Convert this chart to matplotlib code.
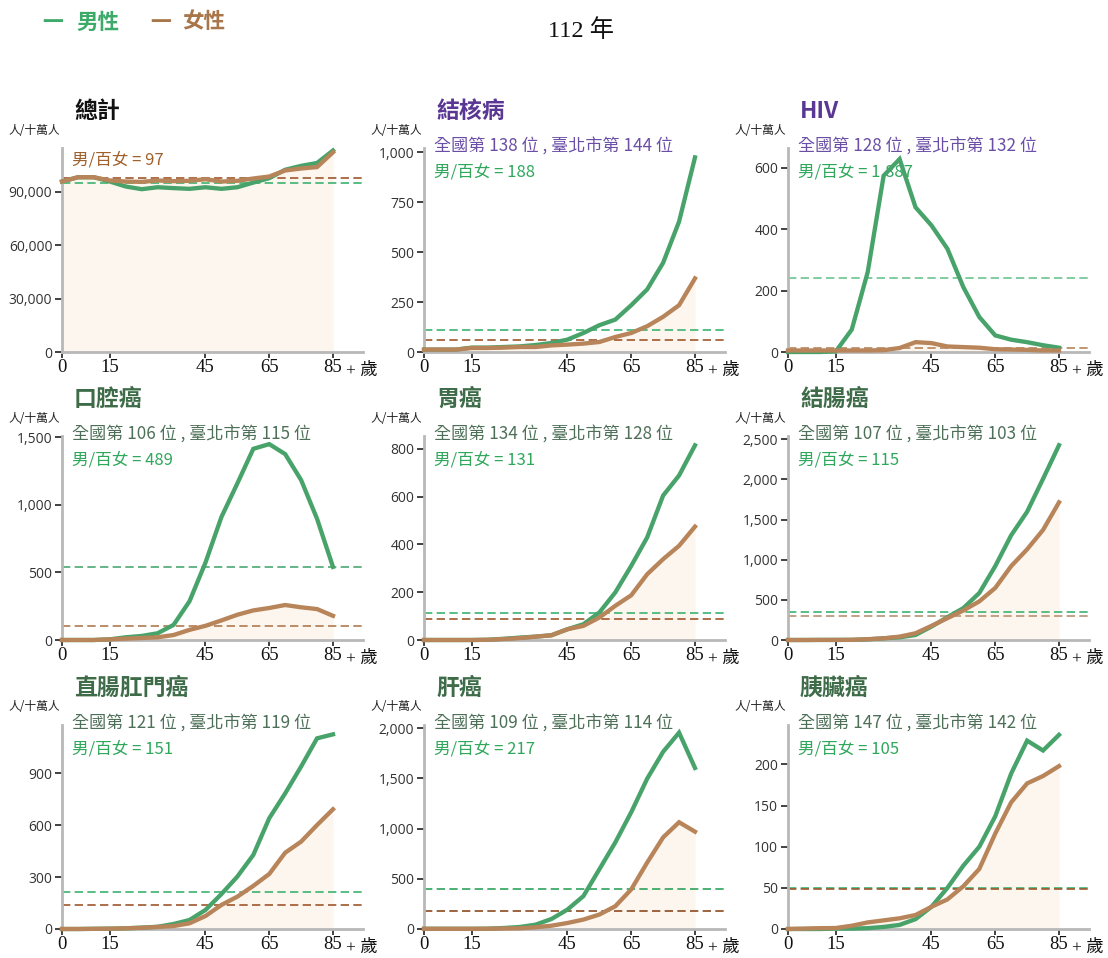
import matplotlib.pyplot as plt
from matplotlib.ticker import FuncFormatter

# Figure: 1108x958 px
W, H = 1108, 958
fig = plt.figure(figsize=(W / 100, H / 100), dpi=100)
fig.patch.set_facecolor('white')

cjk = ['Noto Sans CJK TC', 'DejaVu Sans']
serif = ['Liberation Serif', 'Noto Sans CJK TC']

# ─── Data (rate per 100k by 5-year age group, 0 .. 85+) ───
ages = [0, 5, 10, 15, 20, 25, 30, 35, 40, 45, 50, 55, 60, 65, 70, 75, 80, 85]

total_m = [95600, 98000, 98000, 95600, 92800, 91300, 92400, 91900, 91500,
           92400, 91500, 92400, 95000, 97500, 102200, 104400, 106000, 113000]
total_f = [95600, 98000, 98000, 96200, 95600, 95400, 96200, 95800, 96000,
           96900, 95600, 96000, 97300, 98400, 101800, 102900, 103700, 112000]

tb_m = [12, 12, 12, 22, 22, 25, 28, 35, 45, 62, 95, 134, 162, 234, 313, 446, 652, 973]
tb_f = [12, 12, 12, 20, 20, 22, 25, 25, 33, 37, 42, 50, 75, 95, 129, 176, 234, 368]

hiv_m = [0, 0, 0, 2, 73, 260, 574, 628, 471, 412, 336, 211, 114, 54, 40, 32, 22, 14]
hiv_f = [5, 5, 5, 5, 5, 5, 6, 13, 32, 29, 18, 16, 14, 9, 8, 7, 5, 5]

oral_m = [0, 0, 0, 5, 20, 30, 50, 112, 287, 573, 910, 1159, 1415, 1450, 1376, 1184, 897, 541]
oral_f = [0, 0, 0, 5, 10, 15, 20, 37, 75, 105, 145, 187, 219, 237, 259, 242, 229, 179]

stomach_m = [0, 0, 0, 0, 1, 5, 10, 14, 20, 45, 66, 115, 199, 310, 429, 604, 688, 814]
stomach_f = [0, 0, 0, 0, 1, 4, 8, 14, 20, 45, 59, 94, 143, 187, 275, 338, 394, 474]

colon_m = [0, 0, 1, 1, 2, 8, 21, 33, 63, 167, 284, 397, 585, 920, 1304, 1597, 2007, 2425]
colon_f = [0, 0, 1, 1, 2, 10, 21, 42, 84, 176, 272, 368, 481, 648, 920, 1129, 1371, 1714]

rectal_m = [0, 0, 1, 2, 4, 8, 13, 29, 52, 110, 202, 303, 428, 640, 784, 939, 1102, 1125]
rectal_f = [0, 0, 1, 2, 4, 7, 12, 17, 33, 75, 139, 187, 249, 318, 441, 505, 601, 692]

liver_m = [2, 2, 2, 2, 3, 10, 20, 43, 100, 194, 328, 595, 863, 1164, 1498, 1766, 1957, 1605]
liver_f = [2, 2, 2, 2, 3, 5, 7, 17, 33, 60, 94, 144, 227, 395, 662, 913, 1064, 970]

pancreas_m = [0, 0, 0, 0.5, 0.5, 1, 2.5, 5, 12, 27, 50, 77, 100, 137, 189, 229, 217, 236]
pancreas_f = [0, 0.5, 1, 1.2, 4, 8, 10.5, 13, 17, 27, 36, 52, 73, 116, 154, 177, 186, 198]

titles = ['總計', '結核病', 'HIV', '口腔癌', '胃癌', '結腸癌', '直腸肛門癌', '肝癌', '胰臟癌']
males = [total_m, tb_m, hiv_m, oral_m, stomach_m, colon_m, rectal_m, liver_m, pancreas_m]
females = [total_f, tb_f, hiv_f, oral_f, stomach_f, colon_f, rectal_f, liver_f, pancreas_f]
avg_m = [94500, 109, 240, 543, 112, 343, 216, 395, 50]
avg_f = [97300, 59, 13, 105, 87, 293, 139, 184, 49]
ranks = [None,
         '全國第 138 位 , 臺北市第 144 位',
         '全國第 128 位 , 臺北市第 132 位',
         '全國第 106 位 , 臺北市第 115 位',
         '全國第 134 位 , 臺北市第 128 位',
         '全國第 107 位 , 臺北市第 103 位',
         '全國第 121 位 , 臺北市第 119 位',
         '全國第 109 位 , 臺北市第 114 位',
         '全國第 147 位 , 臺北市第 142 位']
ratios = [97, 188, 1887, 489, 131, 115, 151, 217, 105]
yticks = [[0, 30000, 60000, 90000],
          [0, 250, 500, 750, 1000],
          [0, 200, 400, 600],
          [0, 500, 1000, 1500],
          [0, 200, 400, 600, 800],
          [0, 500, 1000, 1500, 2000, 2500],
          [0, 300, 600, 900],
          [0, 500, 1000, 1500, 2000],
          [0, 50, 100, 150, 200]]
ytops = [114400, 1020, 664, 1510, 853, 2540, 1179, 2033, 248]

# ─── Colours ───
male_c = '#48a36b'
female_c = '#b8845a'
fill_c = '#fdf6ee'
spine_c = '#b8b8b8'
tick_c = '#333333'
title_c = ['#111111', '#5b3794', '#5b3794'] + ['#3e6b48'] * 6
rank_c = ['#111111', '#6b4fa6', '#6b4fa6'] + ['#4e7058'] * 6
ratio_green = '#2fa85c'
ratio_brown = '#a0602a'
dash_m_c = ['#3cb36f', '#3cb36f', '#6cc38f', '#4aa872', '#3cb36f',
            '#3cb36f', '#3cb36f', '#2ea35c', '#3cb36f']
dash_f_c = ['#a0562b', '#a0562b', '#b8845a', '#b07a50', '#a0562b',
            '#b89274', '#a0562b', '#8b4a20', '#a0562b']

# ─── Panel geometry (pixels) ───
col_left = [62, 424, 788]
row_bottom = [352, 640, 929]
ax_w, ax_h = 301, 204
x_max = 85 * ax_w / 271

comma = FuncFormatter(lambda v, pos: f'{int(v):,}')

for i in range(9):
    r, c = divmod(i, 3)
    left = col_left[c]
    bottom = row_bottom[r]
    ax = fig.add_axes([left / W, 1 - bottom / H, ax_w / W, ax_h / H])
    ax.set_xlim(0, x_max)
    ax.set_ylim(0, ytops[i])

    ax.fill_between(ages, 0, females[i], color=fill_c, lw=0, zorder=1)
    ax.axhline(avg_m[i], color=dash_m_c[i], lw=1.2, ls=(0, (5, 2.6)), zorder=2)
    ax.axhline(avg_f[i], color=dash_f_c[i], lw=1.2, ls=(0, (5, 2.6)), zorder=2)
    ax.plot(ages, males[i], color=male_c, lw=3.1, zorder=4, clip_on=False,
            solid_joinstyle='miter')
    ax.plot(ages, females[i], color=female_c, lw=3.1, zorder=4, clip_on=False,
            solid_joinstyle='miter')

    for s in ['top', 'right']:
        ax.spines[s].set_visible(False)
    for s in ['left', 'bottom']:
        ax.spines[s].set_color(spine_c)
        ax.spines[s].set_linewidth(2)
        ax.spines[s].set_zorder(3)

    ax.set_yticks(yticks[i])
    ax.yaxis.set_major_formatter(comma)
    ax.tick_params(axis='y', length=5, width=1.3, color=tick_c, labelsize=10,
                   labelcolor=tick_c, pad=2)
    for lab in ax.get_yticklabels():
        lab.set_family('Open Sans')

    ax.set_xticks([0, 15, 45, 65, 85])
    ax.set_xticklabels(['0', '15', '45', '65', '85'])
    ax.tick_params(axis='x', length=4, width=1.3, color=tick_c, labelsize=13.5,
                   labelcolor='#111111', pad=1)
    for lab in ax.get_xticklabels():
        lab.set_family(serif)
    ax.annotate('+ 歲', xy=(85, 0), xycoords='data', xytext=(9.5, -13.5),
                textcoords='offset points', ha='left', va='center',
                fontsize=12.5, family=serif, color='#111111',
                annotation_clip=False)

    # titles and notes (drawn below the lines)
    ax.text(12 / ax_w, 1 + 37 / ax_h, titles[i], transform=ax.transAxes,
            ha='left', va='center', fontsize=16.5, fontweight='bold',
            color=title_c[i], family=cjk, zorder=0)
    ax.text(-2 / ax_w, 1 + 18 / ax_h, '人/十萬人', transform=ax.transAxes,
            ha='right', va='center', fontsize=8.5, color='#222222',
            family=cjk, zorder=0)
    ratio_txt = f'男/百女 = {ratios[i]:,}'
    ratio_col = ratio_green if ratios[i] >= 100 else ratio_brown
    if ranks[i] is None:
        ax.text(10 / ax_w, 1 - 12 / ax_h, ratio_txt, transform=ax.transAxes,
                ha='left', va='center', fontsize=12, color=ratio_col,
                family=cjk, zorder=0)
    else:
        ax.text(10 / ax_w, 1 + 1 / ax_h, ranks[i], transform=ax.transAxes,
                ha='left', va='center', fontsize=12.3, color=rank_c[i],
                family=cjk, zorder=0)
        ax.text(10 / ax_w, 1 - 24 / ax_h, ratio_txt, transform=ax.transAxes,
                ha='left', va='center', fontsize=12, color=ratio_col,
                family=cjk, zorder=0)

# ─── Header: legend and year ───
def fx(px):
    return px / W


def fy(py):
    return 1 - py / H


fig.text(fx(53), fy(22), '一', ha='center', va='center', fontsize=15,
         fontweight='bold', color='#3daa6a', family=cjk)
fig.text(fx(76), fy(22), '男性', ha='left', va='center', fontsize=15.5,
         fontweight='bold', color='#3daa6a', family=cjk)
fig.text(fx(161), fy(22), '一', ha='center', va='center', fontsize=15,
         fontweight='bold', color='#a8764a', family=cjk)
fig.text(fx(182), fy(22), '女性', ha='left', va='center', fontsize=15.5,
         fontweight='bold', color='#a8764a', family=cjk)
fig.text(fx(581), fy(31), '112 年', ha='center', va='center', fontsize=17.5,
         color='#111111', family=serif)

fig.savefig('out.png', dpi=100, facecolor='white')
